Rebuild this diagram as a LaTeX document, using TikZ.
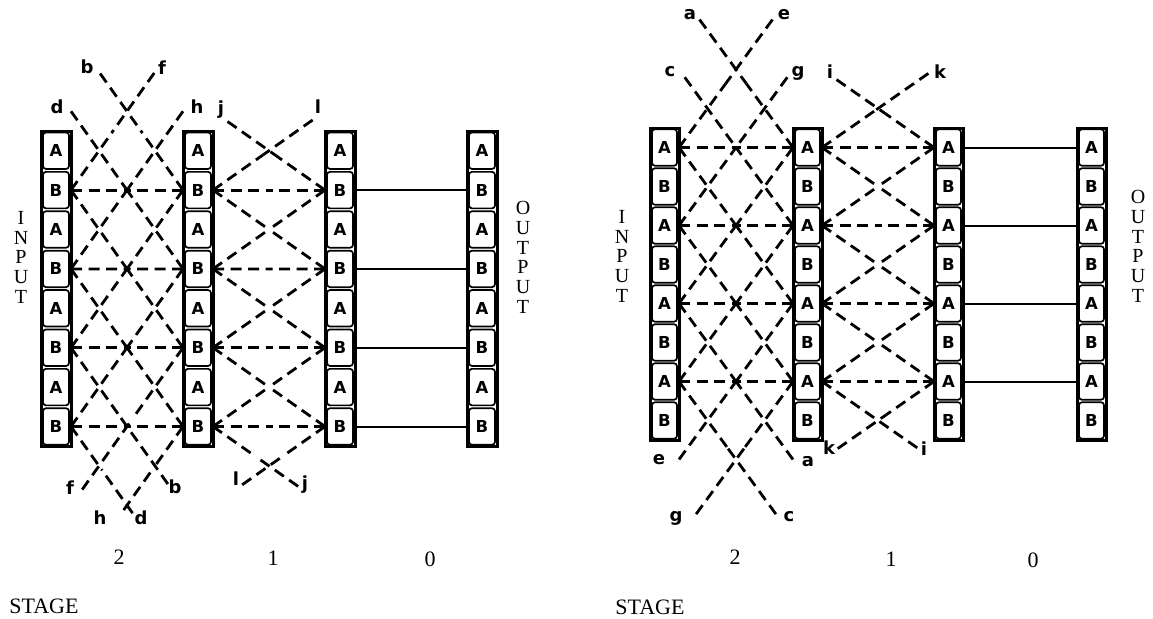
\documentclass[tikz,border=0pt]{standalone}
\usepackage{fontspec}
\newfontfamily\lblfont{DejaVu Sans}
\newfontfamily\txtfont{Liberation Serif}
\usetikzlibrary{calc}
\newcommand\dashconn[4]{%
  \coordinate (dcS) at ($(#1)!#3!(#2)$);
  \coordinate (dcE) at ($(#1)!#4!(#2)$);
  \coordinate (dcM) at ($(dcS)!0.5!(dcE)$);
  \draw[dline] (dcS) -- (dcM);
  \draw[dline] (dcE) -- (dcM);
}
\begin{document}
\begin{tikzpicture}[x=1pt,y=-1pt,
  dline/.style={line width=2.8pt, dash pattern=on 11pt off 6.5pt},
  sline/.style={line width=2pt},
  colframe/.style={line width=3pt},
  cellbox/.style={draw, line width=1.7pt, rounded corners=3pt, inner sep=0pt, minimum height=36.5pt, font={\lblfont\bfseries\fontsize{16.5}{16.5}\selectfont}},
  lbl/.style={inner sep=0pt, font={\lblfont\bfseries\fontsize{18}{18}\selectfont}},
  vtext/.style={inner sep=0pt, align=center, font={\txtfont\fontsize{20}{19.7}\selectfont}},
  stg/.style={inner sep=0pt, font={\txtfont\fontsize{22}{22}\selectfont}},
  stgword/.style={inner sep=0pt, font={\txtfont\fontsize{22}{22}\selectfont}},
]
\useasboundingbox (0,0) rectangle (1153,618);

% ---------------- columns, left diagram
\foreach \c/\x in {1/41,2/183,3/325,4/467} {
  \foreach \r in {0,...,7} {
    \pgfmathsetmacro\cy{131+39.4*(\r+0.5)}
    \pgfmathtruncatemacro\isb{mod(\r,2)}
    \node[cellbox, minimum width=26pt] (L\c-\r) at (\x+15,\cy) {\ifnum\isb=1 B\else A\fi};
  }
  \draw[colframe] (\x,131) rectangle ++(30,315.2);
}
% ---------------- columns, right diagram
\foreach \c/\x in {1/650,2/793,3/934,4/1077} {
  \foreach \r in {0,...,7} {
    \pgfmathsetmacro\cy{128+39*(\r+0.5)}
    \pgfmathtruncatemacro\isb{mod(\r,2)}
    \node[cellbox, minimum width=25pt] (R\c-\r) at (\x+14.5,\cy) {\ifnum\isb=1 B\else A\fi};
  }
  \draw[colframe] (\x,128) rectangle ++(29,312);
}

% ---------------- row coordinates (k = -2..5)
\foreach \k in {-2,...,5} {
  \pgfmathsetmacro\yl{190.1+78.8*\k}
  \pgfmathsetmacro\yr{147.5+78*\k}
  \coordinate (L1e\k) at (71,\yl);
  \coordinate (L2w\k) at (183,\yl);
  \coordinate (L2e\k) at (213,\yl);
  \coordinate (L3w\k) at (325,\yl);
  \coordinate (L3e\k) at (355,\yl);
  \coordinate (L4w\k) at (467,\yl);
  \coordinate (R1e\k) at (679,\yr);
  \coordinate (R2w\k) at (793,\yr);
  \coordinate (R2e\k) at (822,\yr);
  \coordinate (R3w\k) at (934,\yr);
  \coordinate (R3e\k) at (963,\yr);
  \coordinate (R4w\k) at (1077,\yr);
}

% ---------------- left diagram, stage 2
\dashconn{L1e-2}{L2w0}{0.26}{1}
\dashconn{L1e-1}{L2w1}{0}{1}
\dashconn{L1e0}{L2w2}{0}{1}
\dashconn{L1e1}{L2w3}{0}{1}
\dashconn{L1e2}{L2w4}{0}{0.865}
\dashconn{L1e3}{L2w5}{0}{0.55}
\dashconn{L1e0}{L2w-2}{0}{0.743}
\dashconn{L1e1}{L2w-1}{0}{1}
\dashconn{L1e2}{L2w0}{0}{1}
\dashconn{L1e3}{L2w1}{0}{1}
\dashconn{L1e4}{L2w2}{0.1}{1}
\dashconn{L1e5}{L2w3}{0.47}{1}
% left diagram, stage 1
\dashconn{L2e-1}{L3w0}{0.13}{1}
\dashconn{L2e0}{L3w1}{0}{1}
\dashconn{L2e1}{L3w2}{0}{1}
\dashconn{L2e2}{L3w3}{0}{1}
\dashconn{L2e3}{L3w4}{0}{0.76}
\dashconn{L2e0}{L3w-1}{0}{0.89}
\dashconn{L2e1}{L3w0}{0}{1}
\dashconn{L2e2}{L3w1}{0}{1}
\dashconn{L2e3}{L3w2}{0}{1}
\dashconn{L2e4}{L3w3}{0.26}{1}

% ---------------- right diagram, stage 2
\dashconn{R1e-2}{R2w0}{0.18}{1}
\dashconn{R1e-1}{R2w1}{0.05}{1}
\dashconn{R1e0}{R2w2}{0}{1}
\dashconn{R1e1}{R2w3}{0}{1}
\dashconn{R1e2}{R2w4}{0}{1}
\dashconn{R1e3}{R2w5}{0}{0.85}
\dashconn{R1e0}{R2w-2}{0}{0.82}
\dashconn{R1e1}{R2w-1}{0}{0.95}
\dashconn{R1e2}{R2w0}{0}{1}
\dashconn{R1e3}{R2w1}{0}{1}
\dashconn{R1e4}{R2w2}{0}{1}
\dashconn{R1e5}{R2w3}{0.15}{1}
% right diagram, stage 1
\dashconn{R2e-1}{R3w0}{0.13}{1}
\dashconn{R2e0}{R3w1}{0}{1}
\dashconn{R2e1}{R3w2}{0}{1}
\dashconn{R2e2}{R3w3}{0}{1}
\dashconn{R2e3}{R3w4}{0}{0.85}
\dashconn{R2e0}{R3w-1}{0}{0.95}
\dashconn{R2e1}{R3w0}{0}{1}
\dashconn{R2e2}{R3w1}{0}{1}
\dashconn{R2e3}{R3w2}{0}{1}
\dashconn{R2e4}{R3w3}{0.14}{1}

% ---------------- horizontals
\foreach \k in {0,...,3} {
  \dashconn{L1e\k}{L2w\k}{0}{1}
  \dashconn{L2e\k}{L3w\k}{0}{1}
  \draw[sline] (L3e\k) -- (L4w\k);
  \dashconn{R1e\k}{R2w\k}{0}{1}
  \dashconn{R2e\k}{R3w\k}{0}{1}
  \draw[sline] (R3e\k) -- (R4w\k);
}

% ---------------- letters, left diagram
\node[lbl] (lbT) at (87,67) {b};
\node[lbl] (lfT) at (162,68) {f};
\node[lbl] (ldT) at (57,107) {d};
\node[lbl] (lhT) at (197,107) {h};
\node[lbl] (ljT) at (221,110) {j};
\node[lbl] (llT) at (318,107) {l};
\node[lbl] (lfB) at (70,488) {f};
\node[lbl] (lbB) at (175,487) {b};
\node[lbl] (lhB) at (100,518) {h};
\node[lbl] (ldB) at (141,518) {d};
\node[lbl] (llB) at (236,479) {l};
\node[lbl] (ljB) at (305,485) {j};
% letters, right diagram
\node[lbl] (raT) at (690,15) {a};
\node[lbl] (reT) at (784,15) {e};
\node[lbl] (rcT) at (670,72) {c};
\node[lbl] (rgT) at (798,73) {g};
\node[lbl] (riT) at (830,72) {i};
\node[lbl] (rkT) at (940,72) {k};
\node[lbl] (reB) at (659,460) {e};
\node[lbl] (raB) at (808,462) {a};
\node[lbl] (rgB) at (676,518) {g};
\node[lbl] (rcB) at (789,517) {c};
\node[lbl] (rkB) at (829,448) {k};
\node[lbl] (riB) at (924,449) {i};

% ---------------- INPUT / OUTPUT
\node[vtext] (inL) at (21,257.4) {I\\N\\P\\U\\T};
\node[vtext] (outL) at (523,257.3) {O\\U\\T\\P\\U\\T};
\node[vtext] (inR) at (622,256.4) {I\\N\\P\\U\\T};
\node[vtext] (outR) at (1138,246.3) {O\\U\\T\\P\\U\\T};

% ---------------- stage numbers
\node[stg] (s2L) at (119,557) {2};
\node[stg] (s1L) at (273,558) {1};
\node[stg] (s0L) at (430,559) {0};
\node[stg] (s2R) at (735,557) {2};
\node[stg] (s1R) at (891,559) {1};
\node[stg] (s0R) at (1033,560) {0};
\node[stgword] (stL) at (44,606) {STAGE};
\node[stgword] (stR) at (650,607) {STAGE};
\end{tikzpicture}
\end{document}
